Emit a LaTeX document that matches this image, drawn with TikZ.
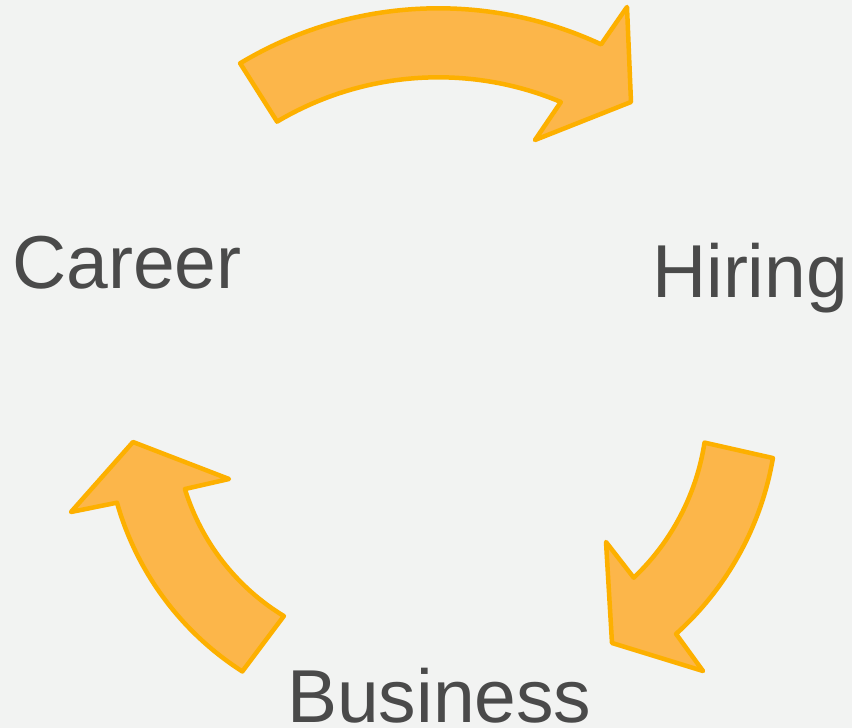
\documentclass[tikz,border=0pt]{standalone}
\usepackage{fontspec}
\setmainfont{Liberation Sans}
\usetikzlibrary{calc}
\definecolor{bg}{RGB}{242,243,242}
\definecolor{arrowfill}{RGB}{252,182,74}
\definecolor{arrowline}{RGB}{253,176,0}
\definecolor{txt}{RGB}{74,74,74}
\begin{document}
\begin{tikzpicture}[x=1pt,y=-1pt,
  bigarrow/.style={fill=arrowfill, draw=arrowline, line width=4.5pt, line join=round},
  lbl/.style={anchor=base west, inner sep=0pt, text=txt, font=\fontsize{75}{82}\selectfont}]
\fill[bg] (0,0) rectangle (852,728);
\useasboundingbox (0,0) rectangle (852,728);
% centres of the three arcs
\coordinate (ctop) at (438.4,393.3);
\coordinate (cright) at (471.3,406.5);
\coordinate (cleft) at (401.8,422.1);
% top arrow: Career -> Hiring
\draw[bigarrow] ($(ctop)+(-121:385)$) arc[start angle=-121,end angle=-65,radius=385]
  -- (627,7) -- (631,102) -- (535,140)
  -- ($(ctop)+(-67.2:316)$) arc[start angle=-67.2,end angle=-120.7,radius=316] -- cycle;
% right arrow: Hiring -> Business
\draw[bigarrow] ($(cright)+(9.7:306)$) arc[start angle=9.7,end angle=48,radius=306]
  -- (703,671) -- (612,643) -- (606,542)
  -- ($(cright)+(46.5:236)$) arc[start angle=46.5,end angle=8.8,radius=236] -- cycle;
% left arrow: Business -> Career
\draw[bigarrow] ($(cleft)+(122.6:296)$) arc[start angle=122.6,end angle=164.2,radius=296]
  -- (71,512) -- (133,442) -- (229,479)
  -- ($(cleft)+(162.85:227)$) arc[start angle=162.85,end angle=121.3,radius=227] -- cycle;
% labels
\node[lbl] (career) at (12,288) {Career};
\node[lbl] (hiring) at (652,297) {Hiring};
\node[lbl] (business) at (287,722) {Business};
\end{tikzpicture}
\end{document}
